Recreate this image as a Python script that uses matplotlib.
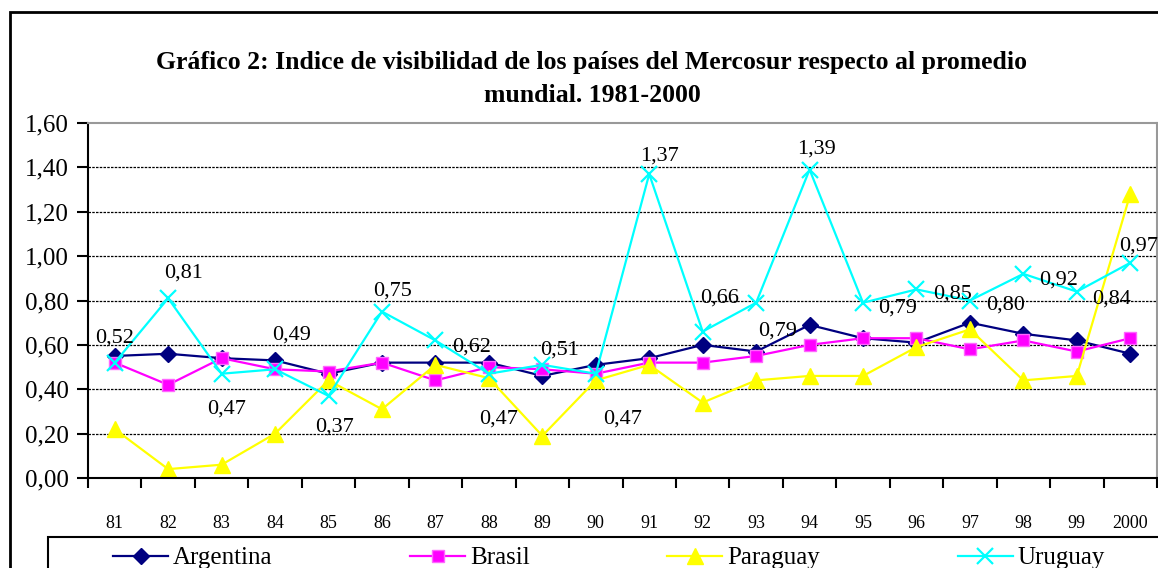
import matplotlib
matplotlib.use("Agg")
import matplotlib.pyplot as plt
from matplotlib.patches import Rectangle

plt.rcParams['font.family'] = ['Liberation Serif', 'DejaVu Serif']

## data
years = ["81", "82", "83", "84", "85", "86", "87", "88", "89", "90",
         "91", "92", "93", "94", "95", "96", "97", "98", "99", "2000"]
argentina = [0.55, 0.56, 0.54, 0.53, 0.47, 0.52, 0.52, 0.52, 0.46, 0.51,
             0.54, 0.60, 0.57, 0.69, 0.63, 0.61, 0.70, 0.65, 0.62, 0.56]
brasil = [0.52, 0.42, 0.54, 0.49, 0.48, 0.52, 0.44, 0.50, 0.49, 0.47,
          0.52, 0.52, 0.55, 0.60, 0.63, 0.63, 0.58, 0.62, 0.57, 0.63]
paraguay = [0.22, 0.04, 0.06, 0.20, 0.44, 0.31, 0.51, 0.45, 0.19, 0.44,
            0.51, 0.34, 0.44, 0.46, 0.46, 0.59, 0.67, 0.44, 0.46, 1.28]
uruguay = [0.52, 0.81, 0.47, 0.49, 0.37, 0.75, 0.62, 0.47, 0.51, 0.47,
           1.37, 0.66, 0.79, 1.39, 0.79, 0.85, 0.80, 0.92, 0.84, 0.97]

## label offsets (pixels) for the Uruguay value labels
label_dx = [0, 15, 5, 16, 6, 11, 36, 10, 17, 27, 10, 17, 21, 7, 35, 36, 36, 35, 35, 8]
label_dy = [25, 25, -35, 34, -31, 21, -7, -45, 15, -45, 18, 34, -28, 21, -5, -5, -5, -6, -7, 17]

fig = plt.figure(figsize=(11.58, 5.68), dpi=100)
ax = fig.add_axes([88/1158, 1 - 478/568, (1157 - 88)/1158, (478 - 123)/568])

x = list(range(len(years)))
ax.plot(x, argentina, color="#000080", lw=1.6, marker="D", ms=8, label="Argentina")
ax.plot(x, brasil, color="#FF00FF", lw=1.6, marker="s", ms=9, mec="#FF66FF",
        label="Brasil")
ax.plot(x, paraguay, color="#FFFF00", lw=1.6, marker="^", ms=12, label="Paraguay")
ax.plot(x, uruguay, color="#00FFFF", lw=1.6, marker="x", ms=11, mew=1.6,
        label="Uruguay")

for i, v in enumerate(uruguay):
    ax.annotate(f"{v:.2f}".replace(".", ","), (x[i], v),
                xytext=(label_dx[i], label_dy[i]), textcoords="offset pixels",
                ha="center", va="center", fontsize=16)

ax.set_xlim(-0.5, len(years) - 0.5)
ax.set_ylim(0, 1.6)
yt = [0.2 * k for k in range(9)]
ax.set_yticks(yt)
ax.set_yticklabels([f"{v:.2f}".replace(".", ",") for v in yt], fontsize=18)
ax.set_xticks(x)
ax.set_xticklabels(years, fontsize=13)
ax.set_xticks([k - 0.5 for k in range(len(years) + 1)], minor=True)
ax.tick_params(axis="x", which="major", length=0, pad=27)
ax.tick_params(axis="x", which="minor", length=7, width=1.5, direction="out")
ax.tick_params(axis="y", length=8, width=1.5, pad=6)

for v in yt[1:-1]:
    ax.axhline(v, color="black", lw=0.9, ls=(0, (2, 1)), zorder=0)

ax.spines["left"].set_linewidth(1.5)
ax.spines["bottom"].set_linewidth(1.5)
ax.spines["top"].set_color("#999999")
ax.spines["top"].set_linestyle((0, (2, 1)))
ax.spines["top"].set_linewidth(1.5)
ax.spines["right"].set_color("#999999")
ax.spines["right"].set_linewidth(1.5)

## title
fig.text(592/1158, 1 - 63/568, "Gráfico 2: Indice de visibilidad de los países del Mercosur respecto al promedio",
         ha="center", va="center", fontsize=18.5, fontweight="bold")
fig.text(592/1158, 1 - 96/568, "mundial. 1981-2000",
         ha="center", va="center", fontsize=18.5, fontweight="bold")

## outer frame and legend box (both run off the picture)
fig.patches.append(Rectangle((10/1158, -0.1), 1.2, 1 - 12/568 + 0.1,
                             transform=fig.transFigure, fill=False,
                             ec="black", lw=2))
fig.patches.append(Rectangle((48/1158, -0.1), 1.2, 1 - 537/568 + 0.1,
                             transform=fig.transFigure, fill=False,
                             ec="black", lw=1.5))

fig.legend(loc="center left", bbox_to_anchor=(113/1158, 1 - 558/568), ncol=4,
           frameon=False, fontsize=18, handlelength=2.2, handletextpad=0.2,
           columnspacing=5.5, borderaxespad=0, borderpad=0)

fig.savefig("out.png", dpi=100)
